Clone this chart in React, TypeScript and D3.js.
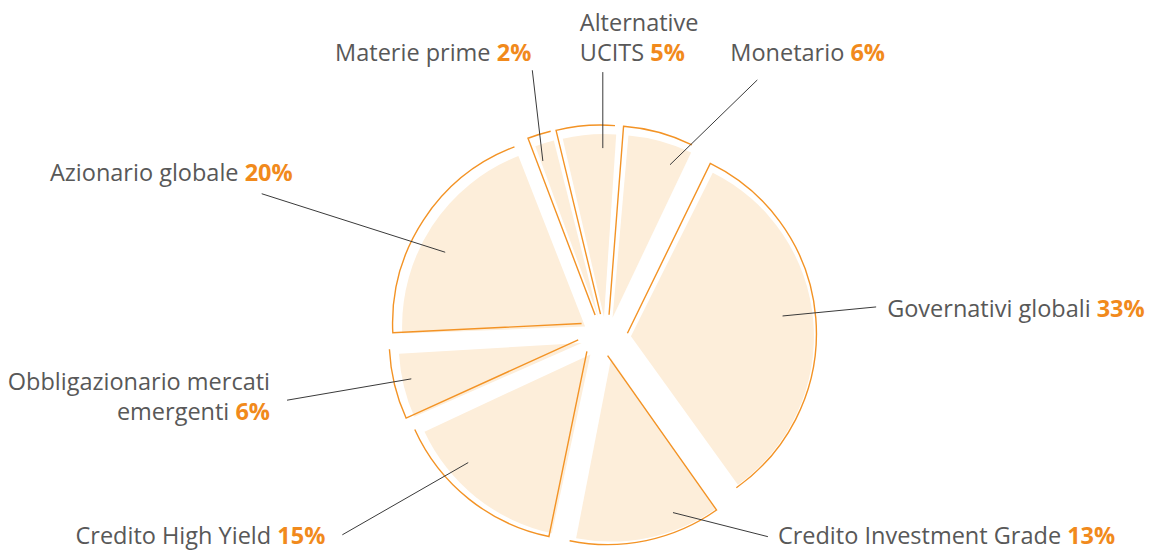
import React from 'react';
import * as d3 from 'd3';

// ---- data ----
const categories = [
  'Governativi globali',
  'Credito Investment Grade',
  'Credito High Yield',
  'Obbligazionario mercati emergenti',
  'Azionario globale',
  'Materie prime',
  'Alternative UCITS',
  'Monetario',
];
const values = [33, 13, 15, 6, 20, 2, 5, 6];
const labelLines = [
  ['Governativi globali'],
  ['Credito Investment Grade'],
  ['Credito High Yield'],
  ['Obbligazionario mercati', 'emergenti'],
  ['Azionario globale'],
  ['Materie prime'],
  ['Alternative', 'UCITS'],
  ['Monetario'],
];

// ---- layout (annotation placement, polar from the annotation origin) ----
const leaderInAngle = [83.3, 158.2, 227.0, 257.7, 298.3, 341.2, 0, 21.3];
const leaderInRadius = [181, 189, 184, 196, 179, 186, 189, 185];
const labelAngle = [83.7, 140.4, 232.8, 258.7, 292.8, 345.2, 0, 31];
const labelRadius = [275, 259, 327, 322, 370, 276, 265, 300];
const labelAnchor = ['start', 'start', 'end', 'end', 'end', 'end', 'start', 'start'];
const labelDx = [11, 10, -17, -17, 31, -1, -23, -27];
const labelDy = [10, 7, 9, -10.5, -13, -9, -41, -19];
const labelLineGap = [0, 0, 0, 30, 0, 0, 30, 0];

const W = 1154;
const H = 550;
const CX = 602.5;
const CY = 335;
const ANNO_X = 602.8;
const ANNO_Y = 337.1;
const EXPLODE_X = 25;
const EXPLODE_Y = 21;
const R_OUT = 189;
const R_FILL = 183;
const FILL_SHIFT = [3.5, 3];
const FILL_PAD = 0.02;

const ORANGE = '#f39325';
const PEACH = '#fdeeda';
const GREY = '#585858';
const PCT = '#f18a1c';

const polar = (angDeg: number, r: number): [number, number] => {
  const a = (angDeg * Math.PI) / 180;
  return [ANNO_X + r * Math.sin(a), ANNO_Y - r * Math.cos(a)];
};

export default function App() {
  const pie = d3
    .pie<number>()
    .sort(null)
    .value((d) => d)
    .startAngle((26 * Math.PI) / 180)
    .endAngle((26 * Math.PI) / 180 + 2 * Math.PI);
  const arcs = pie(values);
  const fillArc = d3
    .arc<d3.PieArcDatum<number>>()
    .innerRadius(0)
    .outerRadius(R_FILL)
    .padAngle(FILL_PAD)
    .padRadius(R_FILL);

  const slices = arcs.map((a, i) => {
    const m = (a.startAngle + a.endAngle) / 2;
    const ax = CX + EXPLODE_X * Math.sin(m);
    const ay = CY - EXPLODE_Y * Math.cos(m);
    const p = d3.path();
    p.moveTo(ax, ay);
    p.lineTo(ax + R_OUT * Math.sin(a.startAngle), ay - R_OUT * Math.cos(a.startAngle));
    p.arc(ax, ay, R_OUT, a.startAngle - Math.PI / 2, a.endAngle - Math.PI / 2, false);
    const [lx, ly] = polar(leaderInAngle[i], leaderInRadius[i]);
    const [ox, oy] = polar(labelAngle[i], labelRadius[i]);
    return { a, i, ax, ay, outline: p.toString(), fill: fillArc(a) || '', lx, ly, ox, oy };
  });

  return (
    <svg
      width={W}
      height={H}
      viewBox={`0 0 ${W} ${H}`}
      style={{ position: 'absolute', left: 0, top: 0, background: '#fff' }}
      fontFamily="'Open Sans', 'Noto Sans', sans-serif"
    >
      {slices.map((s) => (
        <path
          key={'f' + s.i}
          d={s.fill}
          transform={`translate(${s.ax + FILL_SHIFT[0]},${s.ay + FILL_SHIFT[1]})`}
          fill={PEACH}
        />
      ))}
      {slices.map((s) => (
        <path key={'o' + s.i} d={s.outline} fill="none" stroke={ORANGE} strokeWidth={1.4} />
      ))}
      {slices.map((s) => (
        <line key={'l' + s.i} x1={s.lx} y1={s.ly} x2={s.ox} y2={s.oy} stroke="#3a3a3a" strokeWidth={1} />
      ))}
      {slices.map((s) => {
        const lines = labelLines[s.i];
        return (
          <text key={'t' + s.i} textAnchor={labelAnchor[s.i] as any} fontSize={23.5} fill={GREY}>
            {lines.map((ln, j) => (
              <tspan key={j} x={s.ox + labelDx[s.i]} y={s.oy + labelDy[s.i] + j * labelLineGap[s.i]}>
                {ln}
                {j === lines.length - 1 ? (
                  <>
                    {' '}
                    <tspan fill={PCT} fontWeight={700}>
                      {values[s.i]}%
                    </tspan>
                  </>
                ) : null}
              </tspan>
            ))}
          </text>
        );
      })}
    </svg>
  );
}
